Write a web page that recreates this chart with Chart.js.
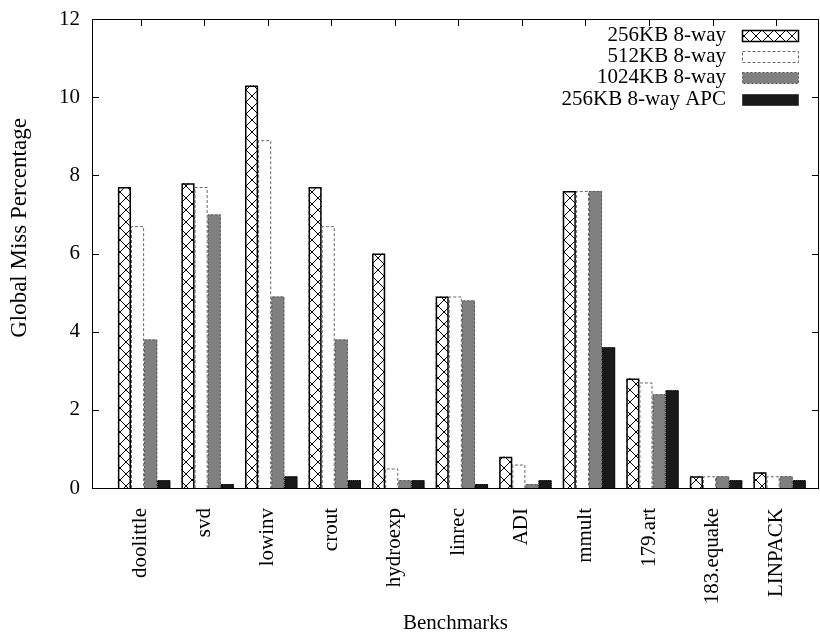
<!DOCTYPE html>
<html><head><meta charset="utf-8">
<style>html,body{margin:0;padding:0;background:#fff}#wrap{width:820px;height:637px}</style>
<script src="https://cdn.jsdelivr.net/npm/chart.js@4.4.0/dist/chart.umd.min.js"></script>
</head><body><div id="wrap"><canvas id="c" width="820" height="637"></canvas></div>
<script>
const categories = ['doolittle','svd','lowinv','crout','hydroexp','linrec','ADI','mmult','179.art','183.equake','LINPACK'];
const seriesNames = ['256KB 8-way','512KB 8-way','1024KB 8-way','256KB 8-way APC'];
const kb256    = [7.7, 7.8, 10.3, 7.7, 6.0, 4.9, 0.8, 7.6, 2.8, 0.3, 0.4];
const kb512    = [6.7, 7.7, 8.9, 6.7, 0.5, 4.9, 0.6, 7.6, 2.7, 0.3, 0.3];
const kb1024   = [3.8, 7.0, 4.9, 3.8, 0.2, 4.8, 0.1, 7.6, 2.4, 0.3, 0.3];
const kb256apc = [0.2, 0.1, 0.3, 0.2, 0.2, 0.1, 0.2, 3.6, 2.5, 0.2, 0.2];
const yTicks = [0, 2, 4, 6, 8, 10, 12];
const xTitle = 'Benchmarks';
const yTitle = 'Global Miss Percentage';

const FONT = 'Liberation Serif';
const canvas = document.getElementById('c');
const ctx0 = canvas.getContext('2d');

function makeHatch() {
  const s = 12;
  const c = document.createElement('canvas');
  c.width = s; c.height = s;
  const g = c.getContext('2d');
  g.fillStyle = '#fff'; g.fillRect(0, 0, s, s);
  g.strokeStyle = '#000'; g.lineWidth = 1;
  g.beginPath();
  g.moveTo(-1, -1); g.lineTo(s + 1, s + 1);
  g.moveTo(s + 1, -1); g.lineTo(-1, s + 1);
  g.stroke();
  return ctx0.createPattern(c, 'repeat');
}
const hatch = makeHatch();

const styles = [
  { fill: hatch, border: '#000', dash: [], lw: 1.5 },
  { fill: '#ffffff', border: '#666', dash: [3, 2], lw: 1 },
  { fill: '#808080', border: '#555', dash: [2, 2], lw: 1 },
  { fill: '#1a1a1a', border: '#000', dash: [1, 1], lw: 1 }
];
const seriesValues = [kb256, kb512, kb1024, kb256apc];

const datasets = seriesValues.map((vals, di) => ({
  label: seriesNames[di],
  data: vals.map((v, i) => ({ x: i, y: v })),
  backgroundColor: styles[di].fill,
  borderWidth: 0
}));

const outlinePlugin = {
  id: 'outline',
  afterDatasetsDraw(chart) {
    const ctx = chart.ctx;
    datasets.forEach((ds, di) => {
      const st = styles[di];
      const meta = chart.getDatasetMeta(di);
      meta.data.forEach(bar => {
        const p = bar.getProps(['x', 'y', 'base', 'width'], true);
        const l = p.x - p.width / 2 + st.lw / 2, r = p.x + p.width / 2 - st.lw / 2;
        const t = p.y + st.lw / 2;
        ctx.save();
        ctx.strokeStyle = st.border; ctx.lineWidth = st.lw;
        ctx.setLineDash(st.dash);
        ctx.beginPath();
        ctx.moveTo(l, p.base); ctx.lineTo(l, t); ctx.lineTo(r, t); ctx.lineTo(r, p.base);
        ctx.stroke();
        ctx.restore();
      });
    });
  }
};

const framePlugin = {
  id: 'frame',
  afterDraw(chart) {
    const ctx = chart.ctx;
    const a = chart.chartArea;
    const xs = chart.scales.x, ys = chart.scales.y;
    ctx.save();
    ctx.strokeStyle = '#000'; ctx.lineWidth = 1; ctx.setLineDash([]);
    ctx.strokeRect(Math.round(a.left) + 0.5, Math.round(a.top) + 0.5, Math.round(a.right - a.left) - 1, Math.round(a.bottom - a.top));
    ctx.beginPath();
    yTicks.forEach(v => {
      const y = Math.round(ys.getPixelForValue(v)) + 0.5;
      ctx.moveTo(a.left, y); ctx.lineTo(a.left + 7, y);
      ctx.moveTo(a.right, y); ctx.lineTo(a.right - 7, y);
    });
    categories.forEach((c, i) => {
      const x = Math.round(xs.getPixelForValue(i) - 3.5) + 0.5;
      ctx.moveTo(x, a.top); ctx.lineTo(x, a.top + 7);
    });
    ctx.stroke();
    // y axis title
    ctx.save();
    ctx.translate(20, 228);
    ctx.rotate(-Math.PI / 2);
    ctx.font = '23px "' + FONT + '"';
    ctx.fillStyle = '#000';
    ctx.textAlign = 'center'; ctx.textBaseline = 'middle';
    ctx.fillText(yTitle, 0, 0);
    ctx.restore();
    // legend
    ctx.font = '21px "' + FONT + '"';
    ctx.fillStyle = '#000';
    ctx.textAlign = 'right'; ctx.textBaseline = 'middle';
    seriesNames.forEach((name, i) => {
      const yc = 35 + i * 21.4;
      ctx.fillText(name, 726, yc);
      const st = styles[i];
      const bx = 742.5, by = Math.round(yc - 5.5) + 0.5, bw = 56, bh = 11;
      ctx.fillStyle = st.fill; ctx.fillRect(bx, by, bw, bh);
      ctx.strokeStyle = st.border; ctx.lineWidth = st.lw; ctx.setLineDash(st.dash);
      ctx.strokeRect(bx, by, bw, bh);
      ctx.setLineDash([]);
      ctx.fillStyle = '#000';
    });
    ctx.restore();
  }
};

Chart.defaults.color = '#000';
new Chart(canvas, {
  type: 'bar',
  data: { datasets },
  options: {
    responsive: false,
    animation: false,
    devicePixelRatio: 1,
    layout: { padding: { top: 19, right: 1, left: 0, bottom: 0 } },
    datasets: { bar: { categoryPercentage: 0.825, barPercentage: 1.0, grouped: true } },
    plugins: { legend: { display: false }, tooltip: { enabled: false } },
    scales: {
      x: {
        type: 'linear', min: -0.82, max: 10.62, offset: false,
        grid: { display: false, offset: false }, border: { display: false },
        afterBuildTicks: s => { s.ticks = categories.map((_, i) => ({ value: i })); },
        afterFit: s => { s.height = 149; },
        ticks: {
          autoSkip: false, minRotation: 90, maxRotation: 90, padding: 12, labelOffset: -3.5,
          font: { family: FONT, size: 21 }, color: '#000',
          callback: v => categories[v]
        },
        title: { display: true, text: xTitle, font: { family: FONT, size: 21 }, color: '#000', padding: { bottom: 1 } }
      },
      y: {
        min: 0, max: 12,
        grid: { display: false, drawTicks: false }, border: { display: false },
        afterBuildTicks: s => { s.ticks = yTicks.map(v => ({ value: v })); },
        afterFit: s => { s.width = 92; s.paddingTop = 0; s.paddingBottom = 0; },
        ticks: { padding: 12, font: { family: FONT, size: 21 }, color: '#000' },
        title: { display: false }
      }
    }
  },
  plugins: [outlinePlugin, framePlugin]
});
</script></body></html>
